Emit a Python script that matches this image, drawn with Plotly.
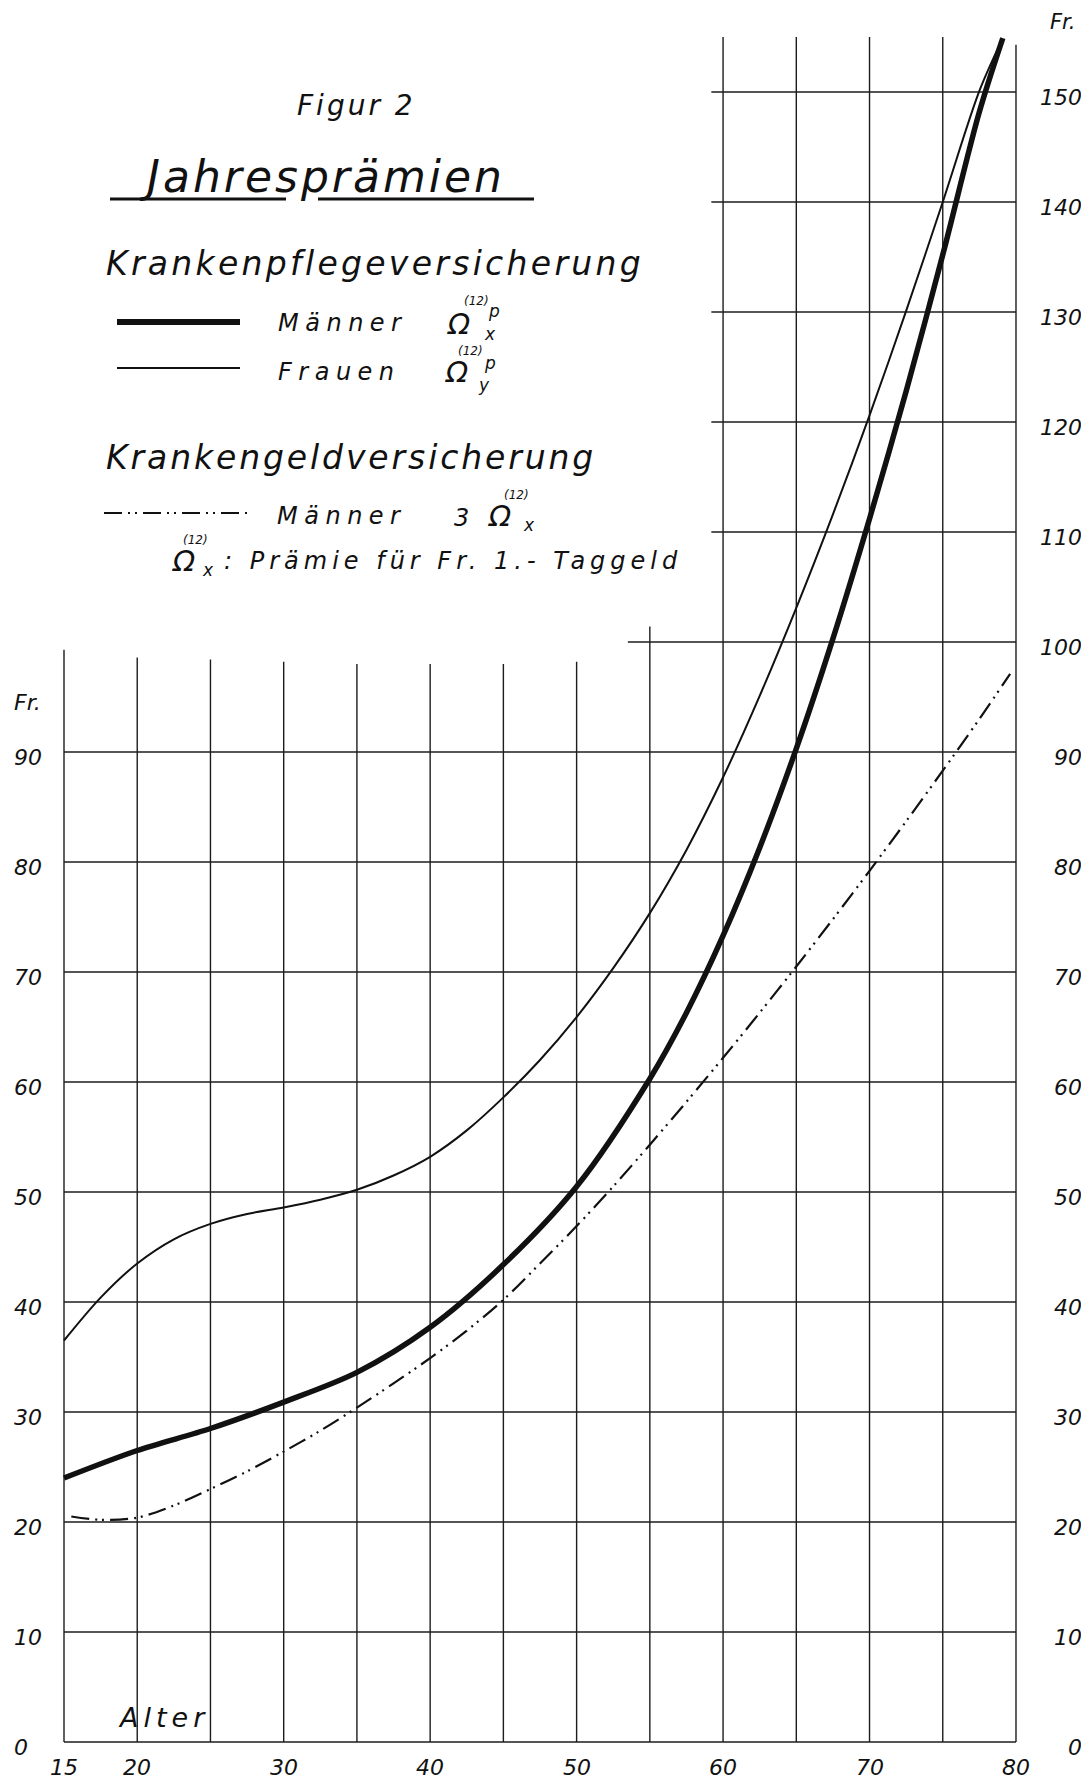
import plotly.graph_objects as go

# page is 1089x1780; the html body adds an 8px margin, so the figure itself is 8px smaller
PAGE_W, PAGE_H, BODY = 1089, 1780, 8
W, H = PAGE_W - BODY, PAGE_H - BODY
INK = "#111111"
GRID = "#1c1c1c"
FONT = "DejaVu Sans"

# ---------------- data ----------------
# Krankenpflegeversicherung, Männer  (thick)
AGES_M = [15, 20, 25, 30, 35, 40, 45, 50, 55, 57.5, 60, 62.5, 65, 67.5, 70, 72.5, 75, 77.5, 79.1]
PREM_M = [24.0, 26.5, 28.5, 30.9, 33.6, 37.7, 43.4, 50.5, 60.3, 66.3, 73.3, 81.3, 90.3, 100.3, 111.2, 122.8, 135.2, 148.2, 154.9]

# Krankenpflegeversicherung, Frauen  (thin)
AGES_F = [15, 17.5, 20, 22.5, 25, 27.5, 30, 32.5, 35, 37.5, 40, 42.5, 45, 47.5, 50, 52.5, 55, 57.5, 60,
          62.5, 65, 67.5, 70, 72.5, 75, 77.5, 79.0]
PREM_F = [36.5, 40.4, 43.5, 45.7, 47.1, 48.0, 48.6, 49.3, 50.2, 51.5, 53.2, 55.6, 58.6, 62.0, 65.9, 70.35, 75.35, 81.1, 87.7,
          95.1, 103.1, 111.6, 120.6, 130.1, 140.0, 150.1, 154.6]

# Krankengeldversicherung, Männer 3*Omega  (dash-dot-dot)
AGES_G = [15.5, 17.5, 20, 22.5, 25, 27.5, 30, 32.5, 35, 37.5, 40, 42.5, 45, 47.5, 50, 52.5, 55, 57.5, 60,
          62.5, 65, 67.5, 70, 72.5, 75, 77.5, 79.6]
PREM_G = [20.5, 20.2, 20.4, 21.5, 23.0, 24.6, 26.4, 28.3, 30.4, 32.6, 34.9, 37.4, 40.2, 43.5, 46.9, 50.5, 54.3, 58.2, 62.2,
          66.3, 70.5, 74.8, 79.2, 83.7, 88.3, 93.0, 97.1]

# tick labels
X_TICKS = [15, 20, 30, 40, 50, 60, 70, 80]
Y_TICKS_LEFT = [0, 10, 20, 30, 40, 50, 60, 70, 80, 90]
Y_TICKS_RIGHT = [0, 10, 20, 30, 40, 50, 60, 70, 80, 90, 100, 110, 120, 130, 140, 150]
UNIT = "Fr."

# ---------------- layout geometry (page pixel mapping) ----------------
X0_PX, PX_PER_YEAR = 64.0 - BODY, 14.646      # age 15 at page x=64
Y0_PX, PX_PER_FR = 1742.0 - BODY, 11.0        # 0 Fr. at page y=1742
x_range = [15 - X0_PX / PX_PER_YEAR, 15 + (W - X0_PX) / PX_PER_YEAR]
y_range = [-(H - Y0_PX) / PX_PER_FR, Y0_PX / PX_PER_FR]
X_LABEL_Y = -2.35

# staircase grid: vertical lines (age, bottom, top), horizontal lines (value, from age, to age)
V_GRID = [(15, 0, 99.3), (20, 0, 98.6), (25, 0, 98.4), (30, 0, 98.2), (35, 0, 98.0), (40, 0, 98.0),
          (45, 0, 98.0), (50, 0, 98.2), (55, 0, 101.4), (60, 0, 155.0), (65, 0, 155.0), (70, 0, 155.0),
          (75, 0, 155.0), (80, 0, 154.3)]
H_GRID = [(v, 15, 80) for v in range(0, 100, 10)] + [(100, 53.5, 80)] + [(v, 59.2, 80) for v in range(110, 160, 10)]

DASHDOT = "18px,6px,2px,5px,2px,6px"

fig = go.Figure()

fig.add_trace(go.Scatter(x=AGES_F, y=PREM_F, mode="lines", line=dict(color=INK, width=2.0, shape="spline", smoothing=0.9),
                         showlegend=False, hoverinfo="skip"))
fig.add_trace(go.Scatter(x=AGES_G, y=PREM_G, mode="lines",
                         line=dict(color=INK, width=2.2, shape="spline", smoothing=0.9, dash=DASHDOT),
                         showlegend=False, hoverinfo="skip"))
fig.add_trace(go.Scatter(x=AGES_M, y=PREM_M, mode="lines", line=dict(color=INK, width=5.5, shape="spline", smoothing=0.9),
                         showlegend=False, hoverinfo="skip"))
# carrier for the right-hand axis
fig.add_trace(go.Scatter(x=[], y=[], yaxis="y2", showlegend=False, hoverinfo="skip"))

shapes = []
for a, b, t in V_GRID:
    shapes.append(dict(type="line", xref="x", yref="y", x0=a, x1=a, y0=b, y1=t, line=dict(color=GRID, width=1.4), layer="below"))
for v, a0, a1 in H_GRID:
    shapes.append(dict(type="line", xref="x", yref="y", x0=a0, x1=a1, y0=v, y1=v, line=dict(color=GRID, width=1.4), layer="below"))


def P(x, y):
    """page pixel -> paper fraction"""
    return (x - BODY) / W, 1 - (y - BODY) / H


def pline(x0, x1, y, width, dash=None):
    a0, b0 = P(x0, y)
    a1, _ = P(x1, y)
    ln = dict(color=INK, width=width)
    if dash:
        ln["dash"] = dash
    return dict(type="line", xref="paper", yref="paper", x0=a0, x1=a1, y0=b0, y1=b0, line=ln)


# title underline (two segments)
shapes.append(pline(110, 286, 199, 3))
shapes.append(pline(318, 534, 199, 3))
# legend samples
shapes.append(pline(117, 240, 322, 6))
shapes.append(pline(117, 240, 368, 2.2))
shapes.append(pline(104, 248, 513, 2.2, DASHDOT))

annotations = []
DY = 4


def txt(text, x, y, size, xanchor="left", spacing=None, pad=1):
    ax, ay = P(x, y + DY)
    if spacing:
        text = f'<span style="letter-spacing:{spacing}px">{text}</span>'
    annotations.append(dict(text=text, x=ax, y=ay, xref="paper", yref="paper", xanchor=xanchor, yanchor="middle",
                            showarrow=False, borderpad=pad,
                            font=dict(family=FONT, size=size, color=INK, style="italic")))


txt("Figur 2", 356, 101, 28, "center", 3)
txt("Jahresprämien", 322, 172, 44, "center", 3)
txt("Krankenpflegeversicherung", 104, 260, 33, "left", 3.3)

txt("Männer", 276, 319, 24, "left", 6.5)
txt("Ω", 445, 320, 29)
txt("(12)", 476, 297, 12, "center")
txt("p", 486, 307, 17)
txt("x", 482, 330, 17)

txt("Frauen", 276, 368, 24, "left", 6.5)
txt("Ω", 443, 368, 29)
txt("(12)", 470, 347, 12, "center")
txt("p", 482, 359, 17)
txt("y", 476, 381, 17)

txt("Krankengeldversicherung", 104, 453, 33, "left", 2.9)

txt("Männer", 275, 512, 24, "left", 6.5)
txt("3", 461, 514, 24, "center")
txt("Ω", 486, 512, 29)
txt("(12)", 516, 491, 12, "center")
txt("x", 521, 521, 17)

txt("Ω", 170, 557, 29)
txt("(12)", 195, 536, 12, "center")
txt("x", 200, 566, 17)
txt(": Prämie für Fr. 1.- Taggeld", 222, 557, 24, "left", 5)

txt("Alter", 116, 1713, 27, "left", 5)

tickfont = dict(family=FONT, size=22, color=INK, style="italic")

# unit label at the top of the right-hand scale
txt(UNIT, 1062, 18, 21, "center", pad=0)

# bottom age labels, placed on the data x scale
for v in X_TICKS:
    annotations.append(dict(text=str(v), x=v, y=X_LABEL_Y, xref="x", yref="y", xanchor="center", yanchor="middle",
                            showarrow=False, font=tickfont))

fig.update_layout(
    width=W, height=H,
    margin=dict(l=0, r=0, t=0, b=0),
    paper_bgcolor="white", plot_bgcolor="white",
    shapes=shapes, annotations=annotations,
    xaxis=dict(range=x_range, showgrid=False, zeroline=False, showline=False, ticks="",
               showticklabels=False, fixedrange=True),
    yaxis=dict(range=y_range, showgrid=False, zeroline=False, showline=False, ticks="",
               tickvals=Y_TICKS_LEFT + [95], ticktext=[str(v) for v in Y_TICKS_LEFT] + [UNIT],
               ticklabelposition="inside", ticklabelstandoff=3, ticklabelshift=5,
               tickfont=tickfont, fixedrange=True),
    yaxis2=dict(range=y_range, overlaying="y", side="right", showgrid=False, zeroline=False, showline=False, ticks="",
                tickvals=Y_TICKS_RIGHT, ticktext=[str(v) for v in Y_TICKS_RIGHT],
                ticklabelposition="inside", ticklabelstandoff=4, ticklabelshift=5,
                tickfont=tickfont, fixedrange=True),
)

fig.write_html("out.html")
